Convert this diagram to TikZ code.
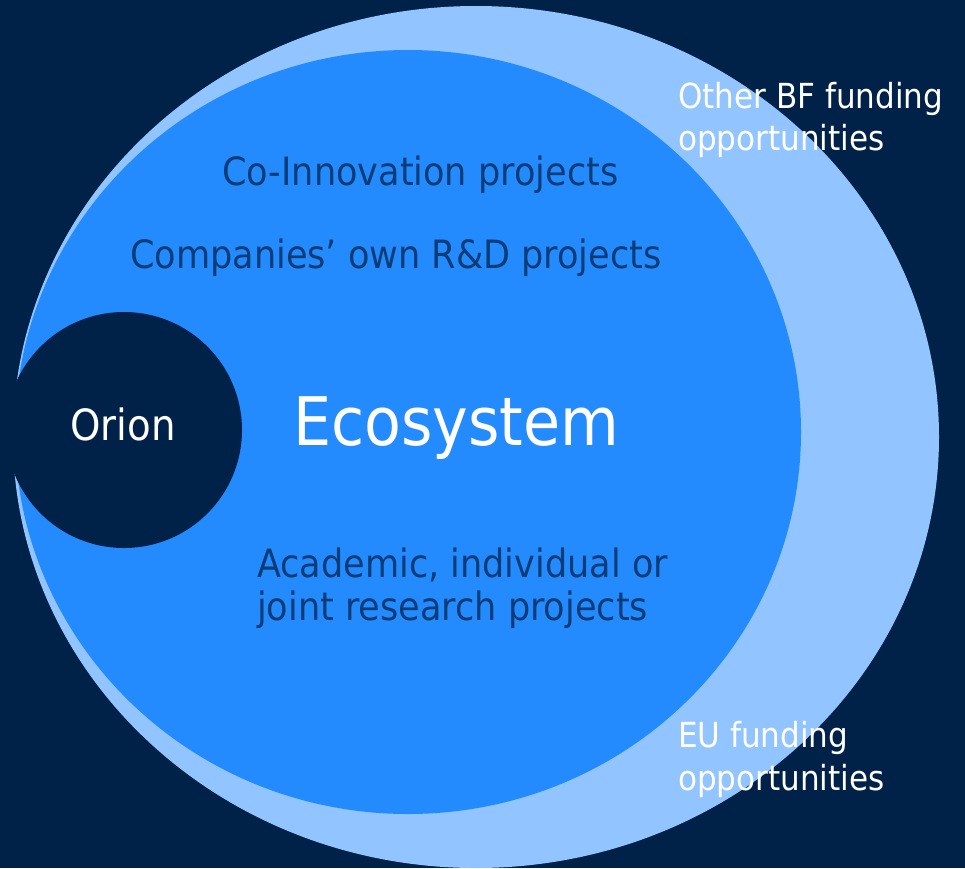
\documentclass[tikz,border=0pt]{standalone}
\usepackage{fontspec}
\setmainfont{DejaVu Sans Condensed}
\definecolor{bgnavy}{HTML}{002248}
\definecolor{outerblue}{HTML}{92C5FF}
\definecolor{innerblue}{HTML}{248BFF}
\definecolor{txtblue}{HTML}{0A3C78}
\tikzset{
  inlabel/.style={anchor=base west, inner sep=0pt, text=txtblue, font=\fontsize{39}{46}\selectfont},
  outlabel/.style={anchor=base west, inner sep=0pt, text=white, font=\fontsize{34.5}{42}\selectfont},
}
\begin{document}
\begin{tikzpicture}[x=1pt,y=-1pt]
\fill[bgnavy] (0,0) rectangle (965,868);
\useasboundingbox (0,0) rectangle (965,868);
% funding ring
\fill[outerblue] (476,437) ellipse [x radius=463, y radius=431];
% ecosystem
\fill[innerblue] (408,432) ellipse [x radius=393, y radius=382];
% Orion
\fill[bgnavy] (124,430) circle [radius=118];

\node[anchor=base, inner sep=0pt, text=white, font=\fontsize{43}{50}\selectfont] (orion) at (123,440) {Orion};
\node[anchor=base, inner sep=0pt, text=white, font=\fontsize{67}{78}\selectfont] (eco) at (456,445) {Ecosystem};

\node[inlabel] (coinno) at (222,185) {Co-Innovation projects};
\node[inlabel] (companies) at (130,268) {Companies’ own R\&D projects};
\node[inlabel] (acad1) at (257,577) {Academic, individual or};
\node[inlabel] (acad2) at (257,620) {joint research projects};

\node[outlabel] (bf1) at (678,108) {Other BF funding};
\node[outlabel] (bf2) at (678,150) {opportunities};
\node[outlabel] (eu1) at (678,747) {EU funding};
\node[outlabel] (eu2) at (678,790) {opportunities};
\end{tikzpicture}
\end{document}
